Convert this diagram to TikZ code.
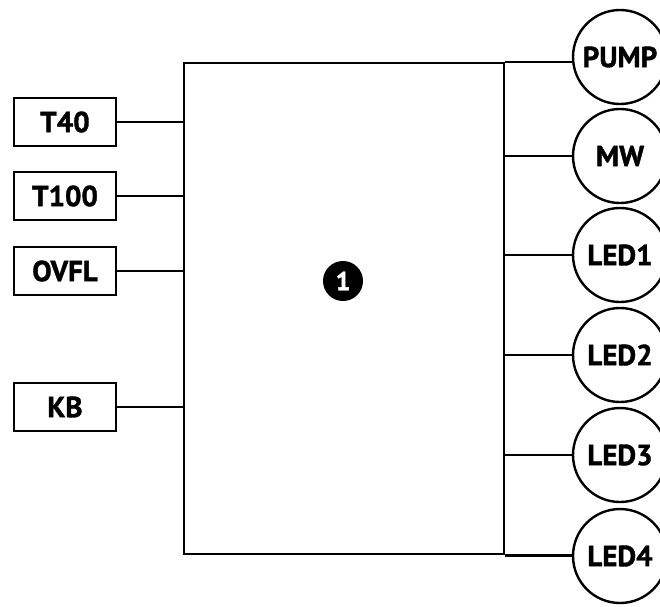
\documentclass[tikz,border=0pt]{standalone}
\usepackage{fontspec}
\setmainfont{PT Sans}[BoldFeatures={FakeBold=1.3}]
\begin{document}
\begin{tikzpicture}[x=1pt,y=-1pt,line width=2.4pt,
  inbox/.style={draw, minimum width=102pt, minimum height=48pt, inner sep=0pt, font=\fontsize{29}{30}\selectfont\bfseries},
  outcirc/.style={draw, circle, minimum size=94pt, inner sep=0pt, font=\fontsize{29}{30}\selectfont\bfseries},
  numcirc/.style={circle, fill=black, text=white, minimum size=40pt, inner sep=0pt, font=\fontsize{26}{27}\selectfont\bfseries},
  mainbox/.style={draw, minimum width=320pt, minimum height=491pt, inner sep=0pt, anchor=north west}]
\useasboundingbox (0,0) rectangle (660,606);
\clip (0,0) rectangle (660,606);
\node[mainbox] (ctrl) at (183,62) {};
\node[numcirc] (one) at (343,281) {1};
% inputs
\node[inbox] (t40) at (65,122) {T40};
\node[inbox] (t100) at (65,196) {T100};
\node[inbox] (ovfl) at (65,271) {OVFL};
\node[inbox] (kb) at (65,407) {KB};
\foreach \n in {t40,t100,ovfl,kb}
  \draw (\n.east) -- (\n.east -| ctrl.west);
% outputs
\node[outcirc] (pump) at (620,57) {PUMP};
\node[outcirc] (mw) at (620,156) {MW};
\node[outcirc] (led1) at (620,255) {LED1};
\node[outcirc] (led2) at (620,355) {LED2};
\node[outcirc] (led3) at (620,455) {LED3};
\node[outcirc] (led4) at (620,556) {LED4};
\draw (ctrl.north east) -- (ctrl.north east -| pump.west);
\draw (ctrl.south east) -- (ctrl.south east -| led4.west);
\foreach \n in {mw,led1,led2,led3}
  \draw (\n.west -| ctrl.east) -- (\n.west);
\end{tikzpicture}
\end{document}
